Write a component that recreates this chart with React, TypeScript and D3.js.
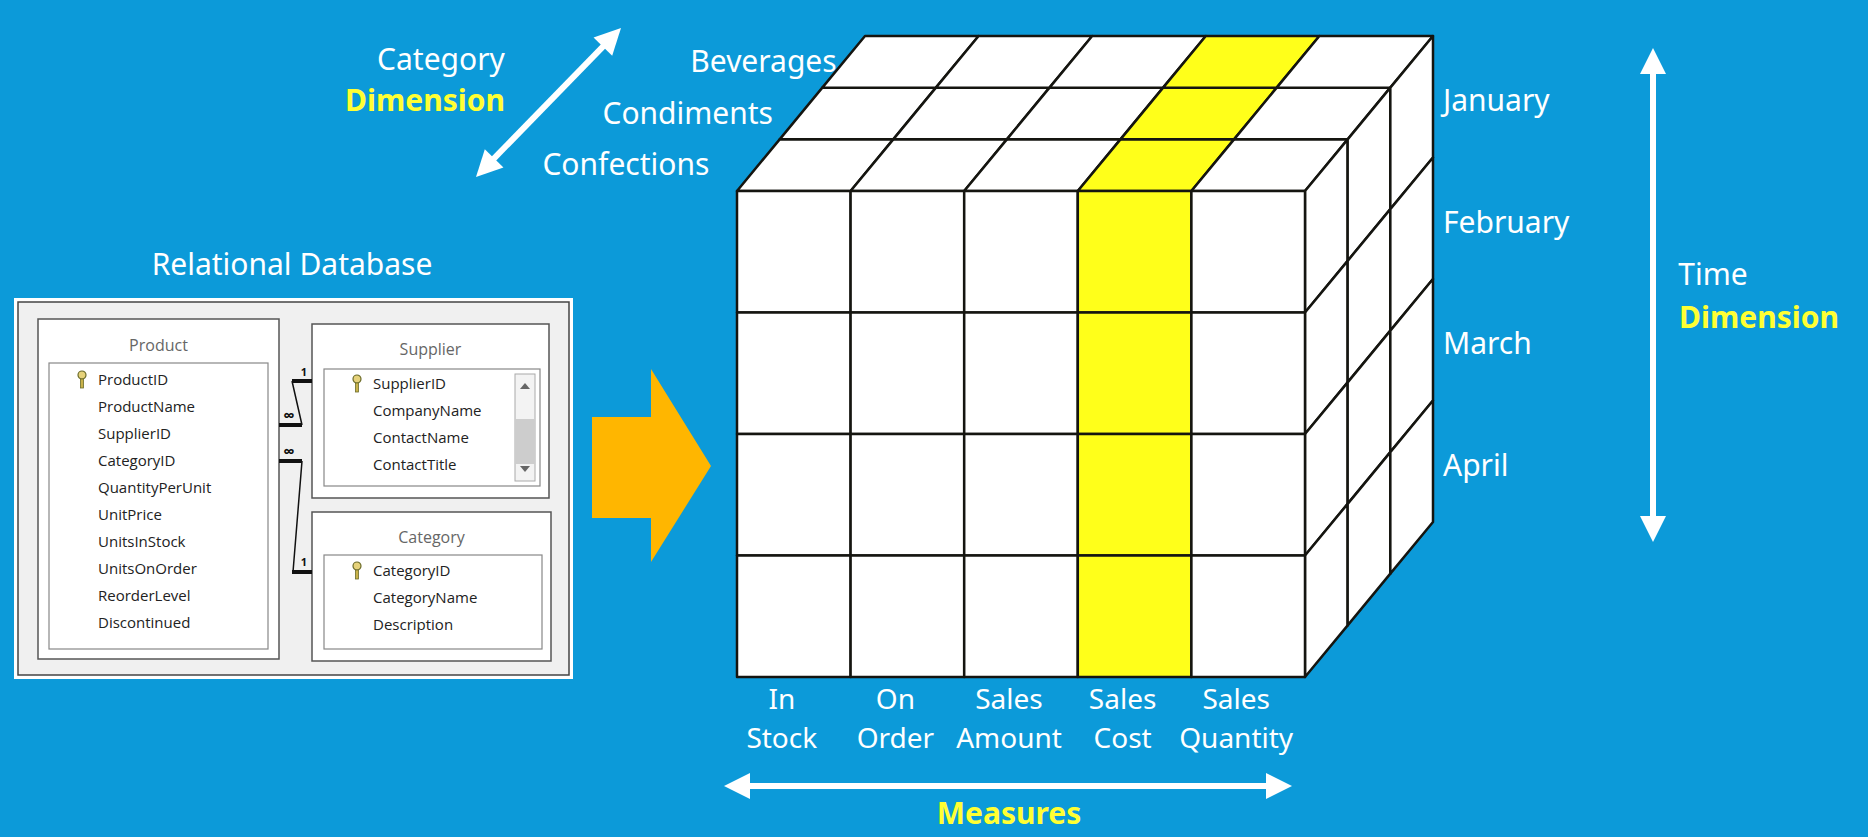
import React, { useEffect } from "react";
import * as d3 from "d3";

const measures = [["In", "Stock"], ["On", "Order"], ["Sales", "Amount"], ["Sales", "Cost"], ["Sales", "Quantity"]];
const months = ["January", "February", "March", "April"];
const categories = ["Confections", "Condiments", "Beverages"];
const highlighted = "Cost";
const productFields = ["ProductID", "ProductName", "SupplierID", "CategoryID", "QuantityPerUnit", "UnitPrice", "UnitsInStock", "UnitsOnOrder", "ReorderLevel", "Discontinued"];
const supplierFields = ["SupplierID", "CompanyName", "ContactName", "ContactTitle"];
const categoryFields = ["CategoryID", "CategoryName", "Description"];

const BG = "#0c9ad9";
const FONT = "'Noto Sans', 'Open Sans', sans-serif";
const DB_FONT = "'Open Sans', 'Noto Sans', sans-serif";

const x = d3.scaleLinear().domain([0, measures.length]).range([737, 1305]);
const y = d3.scaleLinear().domain([0, months.length]).range([191, 677]);
const depth = d3.scaleLinear().domain([0, categories.length]).range([0, 1]);
const DX = 128, DY = -155;
const P = (px: number, py: number, k: number): [number, number] => [px + depth(k) * DX, py + depth(k) * DY];
const poly = (pts: [number, number][]) => pts.map((p) => p.join(",")).join(" ");

function Arrow({ x1, y1, x2, y2 }: { x1: number; y1: number; x2: number; y2: number }) {
  const a = Math.atan2(y2 - y1, x2 - x1);
  const head = (px: number, py: number, ang: number) => {
    const L = 26, W = 13;
    const bx = px - Math.cos(ang) * L, by = py - Math.sin(ang) * L;
    return poly([[px, py], [bx + Math.sin(ang) * W, by - Math.cos(ang) * W], [bx - Math.sin(ang) * W, by + Math.cos(ang) * W]]);
  };
  return (
    <g fill="#fff">
      <line x1={x1 + Math.cos(a) * 20} y1={y1 + Math.sin(a) * 20} x2={x2 - Math.cos(a) * 20} y2={y2 - Math.sin(a) * 20} stroke="#fff" strokeWidth={6} />
      <polygon points={head(x2, y2, a)} />
      <polygon points={head(x1, y1, a + Math.PI)} />
    </g>
  );
}

function Key({ kx, ky }: { kx: number; ky: number }) {
  return (
    <g transform={`translate(${kx},${ky})`}>
      <circle cx={0} cy={-10} r={4} fill="#e6d27a" stroke="#6b6b2a" strokeWidth={1.2} />
      <rect x={-1.5} y={-6} width={3} height={9} fill="#c9b24a" stroke="#6b6b2a" strokeWidth={0.8} />
    </g>
  );
}

function Table({ bx, by, bw, bh, title, ty, lx, ly, lw, lh, fields, fy, scroll }: any) {
  return (
    <g fontFamily={DB_FONT}>
      <rect x={bx} y={by} width={bw} height={bh} fill="#fff" stroke="#555" strokeWidth={1.5} />
      <text x={bx + bw / 2} y={ty} textAnchor="middle" fontSize={16} fill="#666">{title}</text>
      <rect x={lx} y={ly} width={lw} height={lh} fill="#fff" stroke="#888" strokeWidth={1.2} />
      {fields.map((f: string, i: number) => (
        <text key={f} x={lx + 49} y={fy + i * 27} fontSize={15} fill="#222">{f}</text>
      ))}
      <Key kx={lx + 33} ky={fy} />
      {scroll && (
        <g>
          <rect x={lx + lw - 25} y={ly + 5} width={20} height={lh - 10} fill="#f3f3f3" stroke="#aaa" />
          <rect x={lx + lw - 25} y={ly + 50} width={20} height={45} fill="#cdcdcd" />
          <path d={`M${lx + lw - 20},${ly + 20} l5,-6 l5,6z`} fill="#666" />
          <path d={`M${lx + lw - 20},${ly + lh - 20} l5,6 l5,-6z`} fill="#666" />
        </g>
      )}
    </g>
  );
}

export default function App() {
  useEffect(() => {
    document.body.style.margin = "0";
  }, []);
  const hi = measures.findIndex((m) => m[1] === highlighted);
  const nC = measures.length, nR = months.length, nK = categories.length;
  const stroke = { stroke: "#151510", strokeWidth: 2.5, strokeLinejoin: "round" as const };

  const top: JSX.Element[] = [];
  for (let k = 0; k < nK; k++)
    for (let c = 0; c < nC; c++)
      top.push(
        <polygon key={`t${k}-${c}`} {...stroke} fill={c === hi ? "#ffff1a" : "#fff"}
          points={poly([P(x(c), y(0), k), P(x(c + 1), y(0), k), P(x(c + 1), y(0), k + 1), P(x(c), y(0), k + 1)])} />
      );
  const side: JSX.Element[] = [];
  for (let k = 0; k < nK; k++)
    for (let r = 0; r < nR; r++)
      side.push(
        <polygon key={`s${k}-${r}`} {...stroke} fill="#fff"
          points={poly([P(x(nC), y(r), k), P(x(nC), y(r), k + 1), P(x(nC), y(r + 1), k + 1), P(x(nC), y(r + 1), k)])} />
      );
  const front: JSX.Element[] = [];
  for (let r = 0; r < nR; r++)
    for (let c = 0; c < nC; c++)
      front.push(<rect key={`f${r}-${c}`} {...stroke} x={x(c)} y={y(r)} width={x(c + 1) - x(c)} height={y(r + 1) - y(r)} fill={c === hi ? "#ffff1a" : "#fff"} />);

  return (
    <svg width={1868} height={837} style={{ display: "block" }} fontFamily={FONT}>
      <rect width={1868} height={837} fill={BG} />

      {/* category dimension */}
      <text x={441} y={70} textAnchor="middle" fontSize={30} fill="#fff">Category</text>
      <text x={425} y={111} textAnchor="middle" fontSize={30} fontWeight="bold" fill="#ffff33">Dimension</text>
      <Arrow x1={476} y1={177} x2={621} y2={28} />
      {categories.map((c, k) => {
        const [px, py] = P(x(0), y(0), k + 0.5);
        return <text key={c} x={px - 49 + k * 21} y={py + 10} textAnchor="end" fontSize={30} fill="#fff">{c}</text>;
      })}

      {/* cube */}
      {top}
      {side}
      {front}

      {/* months */}
      {months.map((m, i) => (
        <text key={m} x={1443} y={y(i) - 80} fontSize={30} fill="#fff">{m}</text>
      ))}
      <Arrow x1={1653} y1={48} x2={1653} y2={542} />
      <text x={1713} y={285} textAnchor="middle" fontSize={30} fill="#fff">Time</text>
      <text x={1759} y={328} textAnchor="middle" fontSize={30} fontWeight="bold" fill="#ffff33">Dimension</text>

      {/* measures */}
      {measures.map((m, i) => (
        <g key={m.join()} fontSize={28} fill="#fff" textAnchor="middle">
          <text x={(x(i) + x(i + 1)) / 2 - 12} y={709}>{m[0]}</text>
          <text x={(x(i) + x(i + 1)) / 2 - 12} y={748}>{m[1]}</text>
        </g>
      ))}
      <Arrow x1={724} y1={786} x2={1292} y2={786} />
      <text x={1009} y={824} textAnchor="middle" fontSize={30} fontWeight="bold" fill="#ffff33">Measures</text>

      {/* orange arrow */}
      <polygon fill="#ffb600" points={poly([[592, 417], [651, 417], [651, 369], [711, 466], [651, 562], [651, 518], [592, 518]])} />

      {/* relational database */}
      <text x={292} y={275} textAnchor="middle" fontSize={30} fill="#fff">Relational Database</text>
      <rect x={14} y={298} width={559} height={381} fill="#fff" />
      <rect x={18} y={302} width={551} height={373} fill="#f0f0f0" stroke="#444" strokeWidth={1.5} />
      <Table bx={38} by={319} bw={241} bh={340} title="Product" ty={351} lx={49} ly={363} lw={219} lh={286} fields={productFields} fy={385} />
      <Table bx={312} by={324} bw={237} bh={174} title="Supplier" ty={355} lx={324} ly={369} lw={216} lh={117} fields={supplierFields} fy={389} scroll />
      <Table bx={312} by={512} bw={239} bh={149} title="Category" ty={543} lx={324} ly={555} lw={218} lh={94} fields={categoryFields} fy={576} />
      <g stroke="#111" fill="none">
        <path d="M292,381 L312,381 M279,425 L302,425 M279,461 L302,461 M292,572 L312,572" strokeWidth={4} />
        <path d="M292,381 L302,425 M302,461 L293,572" strokeWidth={1.5} />
      </g>
      <g fontFamily={DB_FONT} fontWeight="bold" fill="#111">
        <text x={304} y={376} fontSize={11} textAnchor="middle">1</text>
        <text x={304} y={566} fontSize={11} textAnchor="middle">1</text>
        <text x={289} y={421} fontSize={16} textAnchor="middle">∞</text>
        <text x={289} y={457} fontSize={16} textAnchor="middle">∞</text>
      </g>
    </svg>
  );
}
